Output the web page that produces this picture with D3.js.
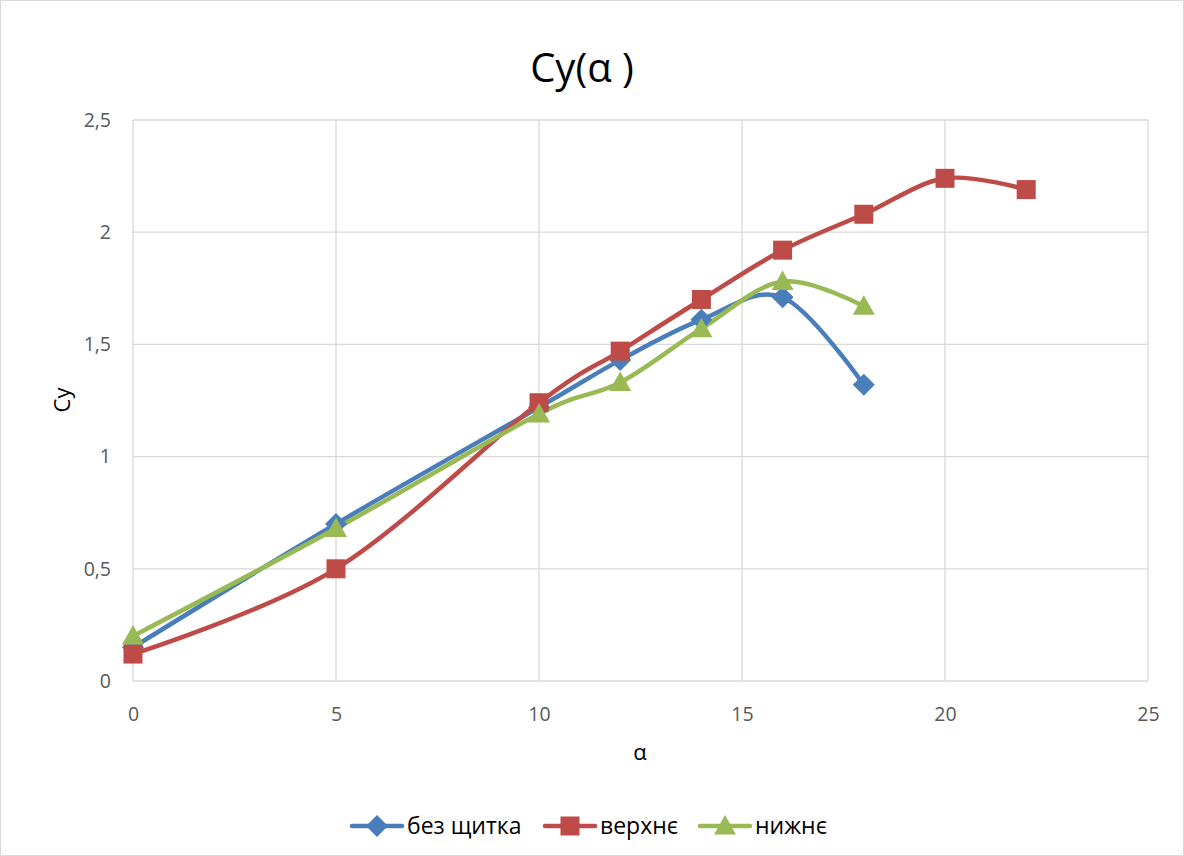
<!DOCTYPE html>
<html><head><meta charset="utf-8">
<script src="https://cdn.jsdelivr.net/npm/d3@7"></script>
<style>
html,body{margin:0;padding:0;background:#fff;}
svg{display:block;font-family:"Open Sans","Noto Sans",sans-serif;}
</style></head>
<body>
<svg id="chart" width="1184" height="856"></svg>
<script>
const seriesNames = ["без щитка", "верхнє", "нижнє"];
const alphaBez = [0, 5, 10, 12, 14, 16, 18];
const cyBez    = [0.15, 0.70, 1.22, 1.43, 1.61, 1.71, 1.32];
const alphaVerh = [0, 5, 10, 12, 14, 16, 18, 20, 22];
const cyVerh    = [0.12, 0.50, 1.24, 1.47, 1.70, 1.92, 2.08, 2.24, 2.19];
const alphaNyzh = [0, 5, 10, 12, 14, 16, 18];
const cyNyzh    = [0.20, 0.68, 1.19, 1.33, 1.57, 1.78, 1.67];
const xTicks = [0, 5, 10, 15, 20, 25];
const yTicks = [0, 0.5, 1, 1.5, 2, 2.5];
const colors = ["#4A7EBB", "#BE4B48", "#98B954"];

(function(){
const svg = d3.select("#chart");
const W = 1184, H = 856;
svg.append("rect").attr("x",0.5).attr("y",0.5).attr("width",W-1).attr("height",H-1)
  .attr("fill","#fff").attr("stroke","#d9d9d9");

const pL = 133, pR = 1148, pT = 120, pB = 681;
const x = d3.scaleLinear().domain([0,25]).range([pL,pR]);
const y = d3.scaleLinear().domain([0,2.5]).range([pB,pT]);

const g = svg.append("g");
g.selectAll(".vg").data(xTicks).enter().append("line")
  .attr("x1",d=>x(d)).attr("x2",d=>x(d)).attr("y1",pT).attr("y2",pB)
  .attr("stroke","#d9d9d9").attr("stroke-width",1.3);
g.selectAll(".hg").data(yTicks).enter().append("line")
  .attr("x1",pL).attr("x2",pR).attr("y1",d=>y(d)).attr("y2",d=>y(d))
  .attr("stroke","#d9d9d9").attr("stroke-width",1.3);

const fmt = d => String(d).replace(".", ",");
const xAxis = d3.axisBottom(x).tickValues(xTicks).tickSize(0).tickPadding(0).tickFormat(fmt);
const xg = svg.append("g").attr("transform",`translate(0,${pB+33})`).call(xAxis);
xg.select(".domain").remove();
xg.selectAll("text").attr("font-size",19.5).attr("fill","#595959").attr("font-family","\"Open Sans\",sans-serif").attr("dy","0.35em");
const yAxis = d3.axisLeft(y).tickValues(yTicks).tickSize(0).tickPadding(0).tickFormat(fmt);
const yg = svg.append("g").attr("transform",`translate(${pL-22},0)`).call(yAxis);
yg.select(".domain").remove();
yg.selectAll("text").attr("font-size",19.5).attr("fill","#595959").attr("font-family","\"Open Sans\",sans-serif");

svg.append("text").attr("x",582).attr("y",68).attr("dy","0.35em").attr("text-anchor","middle")
  .attr("font-size",40).attr("fill","#000").text("Cy(α )");
svg.append("text").attr("x",640).attr("y",752).attr("dy","0.35em").attr("text-anchor","middle")
  .attr("font-size",22).attr("fill","#000").text("α");
svg.append("text").attr("transform","translate(62,400) rotate(-90)").attr("dy","0.35em").attr("text-anchor","middle")
  .attr("font-size",22).attr("fill","#000").text("Cy");

const series = [
  {name: seriesNames[0], xs: alphaBez, ys: cyBez},
  {name: seriesNames[1], xs: alphaVerh, ys: cyVerh},
  {name: seriesNames[2], xs: alphaNyzh, ys: cyNyzh}
];
const line = d3.line().x(d=>x(d[0])).y(d=>y(d[1])).curve(d3.curveCardinal.tension(0));
const markerPath = [
  "M0,-11L11,0L0,11L-11,0Z",
  "M-9.5,-9.5H9.5V9.5H-9.5Z",
  "M0,-11L11,8.5H-11Z"
];

series.forEach((s,i) => {
  const pts = s.xs.map((v,j)=>[v, s.ys[j]]);
  svg.append("path").datum(pts).attr("d",line).attr("fill","none")
    .attr("stroke",colors[i]).attr("stroke-width",4.5).attr("stroke-linecap","round").attr("stroke-linejoin","round");
});
series.forEach((s,i) => {
  const pts = s.xs.map((v,j)=>[v, s.ys[j]]);
  svg.append("g").selectAll("path").data(pts).enter().append("path")
    .attr("d", markerPath[i])
    .attr("transform", d=>`translate(${x(d[0])},${y(d[1])})`)
    .attr("fill", colors[i]);
});

const legX = [352, 545, 700];
series.forEach((s,i) => {
  const lg = svg.append("g").attr("transform",`translate(${legX[i]},826)`);
  lg.append("line").attr("x1",0).attr("x2",50).attr("y1",0).attr("y2",0)
    .attr("stroke",colors[i]).attr("stroke-width",4.5).attr("stroke-linecap","round");
  lg.append("path").attr("d", markerPath[i])
    .attr("transform",`translate(25,0)`).attr("fill",colors[i]);
  lg.append("text").attr("x",55).attr("y",0).attr("dy","0.35em")
    .attr("font-size",23).attr("fill","#000").text(s.name);
});
})();
</script>
</body></html>
